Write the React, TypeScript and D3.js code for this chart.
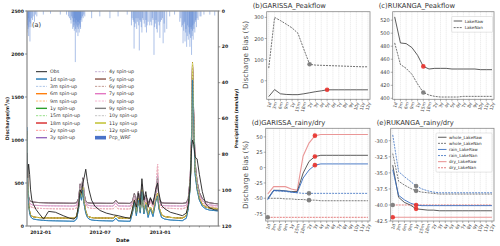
import React from "react";
import * as d3 from "d3";

const FONT = "DejaVu Sans, Verdana, sans-serif";
const parse = d3.timeParse("%Y-%m-%d");

// ---- panel (a): discharge time series (sampled dates) ----
const simDates = [
  "2011-11-20", "2011-11-22", "2011-11-25", "2011-11-28", "2011-12-01", "2011-12-05", "2011-12-10", "2011-12-18",
  "2011-12-28", "2012-01-10", "2012-01-25", "2012-02-15", "2012-03-10", "2012-03-30", "2012-04-12", "2012-04-20",
  "2012-04-26", "2012-05-01", "2012-05-05", "2012-05-09", "2012-05-13", "2012-05-18", "2012-05-23", "2012-05-28",
  "2012-06-05", "2012-06-15", "2012-07-01", "2012-07-20", "2012-08-10", "2012-08-18", "2012-08-25", "2012-09-15",
  "2012-10-01", "2012-10-08", "2012-10-14", "2012-10-20", "2012-10-26", "2012-11-01", "2012-11-06", "2012-11-12",
  "2012-11-18", "2012-11-25", "2012-12-02", "2012-12-10", "2012-12-18", "2012-12-24", "2012-12-28", "2013-01-05",
  "2013-01-15", "2013-02-01", "2013-02-20", "2013-03-10", "2013-03-22", "2013-03-28", "2013-04-03", "2013-04-07",
  "2013-04-10", "2013-04-14", "2013-04-18", "2013-04-24", "2013-05-01", "2013-05-10", "2013-05-20", "2013-06-01",
  "2013-06-15", "2013-06-27",
];
const obs = [
  850, 560, 720, 600, 420, 300, 250, 190, 140, 80, 170, 160, 120, 90, 80, 110,
  250, 420, 380, 500, 560, 660, 520, 420, 300, 230, 180, 150, 130, 125, 120, 100,
  90, 200, 300, 220, 380, 250, 550, 300, 400, 220, 330, 250, 420, 500, 380, 240,
  200, 160, 140, 120, 150, 250, 500, 900, 1000, 950, 800, 780, 600, 400, 260, 210,
  190, 185,
];
// 1d / 3m spin-up
const simA = [
  1150, 500, 250, 150, 110, 90, 80, 75, 70, 65, 62, 60, 58, 56, 55, 80,
  200, 380, 300, 420, 250, 150, 100, 80, 70, 65, 62, 60, 58, 90, 60, 56,
  55, 150, 280, 120, 300, 150, 400, 140, 250, 100, 200, 110, 280, 350, 200, 100,
  80, 70, 65, 62, 90, 200, 450, 900, 1700, 1100, 600, 420, 300, 230, 200, 185,
  180, 175,
];
// 6m .. 18m, 11y, 12y spin-up
const simB = [
  1100, 520, 280, 170, 130, 115, 105, 100, 98, 96, 95, 93, 92, 90, 90, 110,
  220, 400, 330, 450, 280, 170, 120, 105, 98, 95, 93, 92, 90, 120, 92, 90,
  88, 170, 300, 150, 320, 170, 420, 160, 270, 130, 220, 140, 300, 380, 220, 130,
  110, 100, 95, 92, 120, 220, 480, 950, 1900, 1150, 650, 450, 320, 250, 220, 210,
  205, 200,
];
// 2y, 6y, 8y spin-up
const simC = [
  1000, 480, 300, 240, 225, 218, 212, 208, 205, 203, 202, 200, 200, 198, 198, 210,
  280, 450, 380, 520, 330, 250, 220, 210, 205, 203, 202, 200, 200, 230, 200, 198,
  198, 250, 340, 230, 360, 240, 450, 230, 320, 215, 280, 220, 340, 720, 280, 215,
  208, 205, 202, 200, 215, 280, 520, 1000, 1850, 1200, 700, 480, 350, 280, 240, 225,
  220, 215,
];
// 4y, 7y, 10y spin-up
const simD = [
  1050, 500, 320, 270, 255, 248, 243, 240, 238, 236, 235, 234, 233, 232, 232, 240,
  300, 470, 400, 540, 350, 270, 245, 238, 235, 234, 233, 232, 232, 270, 233, 232,
  231, 270, 360, 250, 380, 260, 470, 250, 340, 240, 300, 245, 360, 600, 300, 240,
  236, 234, 233, 232, 240, 300, 540, 1020, 1880, 1220, 720, 500, 370, 300, 260, 245,
  240, 235,
];
// 3y, 5y, 9y spin-up
const simE = [
  1100, 520, 340, 300, 288, 282, 278, 275, 272, 270, 268, 267, 266, 265, 265, 270,
  320, 490, 420, 560, 370, 290, 272, 268, 266, 265, 265, 264, 264, 300, 265, 264,
  263, 290, 380, 275, 400, 285, 480, 275, 360, 268, 320, 270, 380, 560, 320, 270,
  266, 265, 264, 263, 270, 320, 560, 1050, 1850, 1250, 740, 520, 390, 320, 285, 270,
  262, 258,
];
const pcpDates = [
  "2011-11-22", "2011-11-25", "2011-11-27", "2011-11-29", "2011-12-02", "2011-12-07", "2011-12-13", "2011-12-20",
  "2012-01-09", "2012-01-31", "2012-03-01", "2012-03-26", "2012-04-02", "2012-04-05", "2012-04-08", "2012-04-10",
  "2012-04-12", "2012-04-14", "2012-04-16", "2012-04-18", "2012-04-20", "2012-04-22", "2012-04-24", "2012-04-26",
  "2012-04-28", "2012-04-30", "2012-05-02", "2012-05-04", "2012-05-06", "2012-05-10", "2012-05-15", "2012-06-05",
  "2012-06-30", "2012-07-31", "2012-08-25", "2012-09-22", "2012-10-05", "2012-10-10", "2012-10-13", "2012-10-17",
  "2012-10-21", "2012-10-25", "2012-10-29", "2012-11-02", "2012-11-06", "2012-11-10", "2012-11-16", "2012-11-20",
  "2012-11-25", "2012-11-30", "2012-12-06", "2012-12-10", "2012-12-13", "2012-12-17", "2012-12-21", "2012-12-26",
  "2012-12-31", "2013-01-05", "2013-01-10", "2013-01-15", "2013-01-21", "2013-01-30", "2013-02-14", "2013-03-02",
  "2013-03-08", "2013-03-12", "2013-03-15", "2013-03-18", "2013-03-21", "2013-03-23", "2013-03-26", "2013-03-28",
  "2013-03-31", "2013-04-02", "2013-04-05", "2013-04-07", "2013-04-10", "2013-04-12", "2013-04-15", "2013-04-17",
  "2013-04-20", "2013-04-22", "2013-04-27", "2013-05-03", "2013-05-15", "2013-06-02", "2013-06-17",
  "2011-11-20", "2011-11-21", "2011-11-23", "2011-11-24", "2011-11-26", "2011-11-30", "2011-12-04", "2011-12-09",
  "2011-12-16", "2012-03-20", "2012-03-29", "2012-04-03", "2012-04-07", "2012-04-11", "2012-04-13", "2012-04-15",
  "2012-04-17", "2012-04-19", "2012-04-21", "2012-04-23", "2012-04-25", "2012-04-27", "2012-04-29", "2012-05-01",
  "2012-05-03", "2012-05-08", "2012-05-12", "2012-10-07", "2012-10-12", "2012-10-15", "2012-10-19", "2012-10-23",
  "2012-10-27", "2012-10-31", "2012-11-04", "2012-11-08", "2012-11-13", "2012-11-18", "2012-11-22", "2012-12-03",
  "2012-12-08", "2012-12-15", "2012-12-19", "2012-12-23", "2012-12-29", "2013-01-02", "2013-01-08", "2013-01-13",
  "2013-03-05", "2013-03-10", "2013-03-14", "2013-03-17", "2013-03-20", "2013-03-25", "2013-03-30", "2013-04-01",
  "2013-04-04", "2013-04-06", "2013-04-09", "2013-04-11", "2013-04-14", "2013-04-19", "2013-04-24", "2013-05-06",
];
const pcp = [
  8, 14, 6, 17, 9, 5, 6, 3,
  2, 1.5, 2, 3, 5, 3, 10, 6,
  8, 4, 28.5, 7, 12, 9, 14, 6,
  12, 5, 10, 4, 6, 4, 3, 4,
  3, 4, 3, 2, 8, 5, 21, 7,
  10, 4, 22, 6, 12, 5, 9, 12,
  6, 8, 8, 5, 24.5, 7, 10, 6,
  15, 5, 18, 12, 10, 3, 2, 6,
  9, 18, 7, 17, 10, 20, 8, 16,
  12, 20, 9, 24.5, 11, 16, 7, 12,
  5, 9, 5, 3, 2, 2, 2.5,
  12, 5, 10, 4, 9, 7, 4, 3,
  2, 2, 4, 7, 4, 9, 11, 6,
  10, 5, 8, 6, 10, 8, 7, 9,
  5, 3, 2, 4, 6, 9, 4, 6,
  8, 5, 9, 4, 7, 5, 8, 6,
  4, 9, 5, 12, 8, 6, 4, 7,
  4, 8, 11, 6, 12, 14, 9, 13,
  15, 10, 14, 8, 10, 6, 4, 3,
];

const spinNames = ["1d", "3m", "6m", "9m", "1y", "15m", "18m", "2y", "3y", "4y", "5y", "6y", "7y", "8y", "9y", "10y", "11y", "12y"];
const spinColors = ["#1f77b4", "#aec7e8", "#ff7f0e", "#ffbb78", "#2ca02c", "#98df8a", "#d62728", "#ff9896", "#9467bd",
  "#c5b0d5", "#8c564b", "#c49c94", "#e377c2", "#f7b6d2", "#7f7f7f", "#c7c7c7", "#bcbd22", "#dbdb8d"];
const spinData = [simA, simA, simB, simB, simB, simB, simB, simC, simE, simD, simE, simC, simD, simC, simE, simD, simB, simB];

// ---- panels (b)-(e) ----
const cats = ["1d", "3m", "6m", "9m", "1y", "15m", "18m", "2y", "3y", "4y", "5y", "6y", "7y", "8y", "9y", "10y", "11y", "12y"];
const garPeakRaw = [-75, -42, -62, -65, -66, -66, -62, -57, -52, -48, -43, -43, -43, -43, -43, -43, -43, -43];
const garPeakNan = [60, 300, 285, 268, 250, 225, 150, 78, 74, 73, 72, 71, 70, 69, 68, 67, 66, 66];
const rukPeakRaw = [525, 485, 484, 478, 466, 449, 445, 446, 446, 446, 445, 445, 445, 445, 445, 444, 444, 444];
const rukPeakNan = [485, 452, 446, 437, 422, 409, 405, 403, 402, 402, 402, 402, 403, 403, 403, 403, 403, 403];

const garWholeRaw = [-50, -37, -37, -38, -39, -39, -9, 10, 18, 20, 20, 20, 20, 20, 20, 20, 20, 20];
const garWholeNan = [-50, -50, -50, -51, -51, -52, -52, -53, -53, -54, -54, -54, -54, -54, -54, -54, -54, -54];
const garRainRaw = [-52, -37, -38, -38, -40, -41, -17, -4, 4, 6, 6, 6, 6, 6, 6, 6, 6, 6];
const garRainNan = [-52, -38, -38, -39, -40, -41, -42, -42, -42, -42, -42, -42, -42, -42, -42, -42, -42, -42];
const garDryRaw = [-43, -31, -31, -31, -35, -37, 19, 40, 52, 54, 54, 54, 54, 54, 54, 54, 54, 54];
const garDryNan = [-81, -81, -81, -81, -81, -81, -81, -81, -81, -81, -81, -81, -81, -81, -81, -81, -81, -81];

const rukWholeRaw = [-33.8, -38.8, -39.6, -40.0, -40.6, -40.7, -40.8, -40.8, -40.9, -40.9, -40.9, -40.9, -40.9, -40.9, -40.9, -40.9, -40.9, -40.9];
const rukWholeNan = [-32.0, -36.3, -36.9, -37.4, -37.8, -38.0, -38.1, -38.2, -38.3, -38.3, -38.3, -38.3, -38.3, -38.3, -38.3, -38.3, -38.3, -38.3];
const rukRainRaw = [-34.5, -38.5, -39.2, -39.7, -40.0, -40.1, -40.1, -40.1, -40.1, -40.1, -40.1, -40.1, -40.1, -40.1, -40.1, -40.1, -40.1, -40.1];
const rukRainNan = [-29.1, -34.8, -35.6, -36.3, -37.05, -37.5, -37.8, -38.0, -38.1, -38.1, -38.1, -38.1, -38.1, -38.1, -38.1, -38.1, -38.1, -38.1];
const rukDryRaw = [-41.9, -41.9, -41.9, -41.9, -41.9, -41.9, -41.9, -41.9, -41.9, -41.9, -41.9, -41.9, -41.9, -41.9, -41.9, -41.9, -41.9, -41.9];
const rukDryNan = [-40.0, -40.0, -40.0, -40.0, -40.0, -40.0, -40.0, -40.0, -40.0, -40.0, -40.0, -40.0, -40.0, -40.0, -40.0, -40.0, -40.0, -40.0];

type Ser = { name: string; vals: number[]; color: string; dash?: string; width?: number; opacity?: number };
type Dot = { i: number; vals: number[]; color: string };

const BLACK = "#333";
const BLUE = "#3a6ec0";
const RED = "#d94848";
const LRED = "#e88c8c";

function PanelA() {
  const L = 27, R = 218.3, T = 11, B = 226;
  const x = d3.scaleTime().domain([parse("2011-11-20")!, parse("2013-06-28")!]).range([L, R]);
  const y = d3.scaleLinear().domain([0, 2500]).range([B, T]);
  const yp = d3.scaleLinear().domain([0, 120]).range([T, B]);
  const ds = simDates.map((s) => parse(s)!);
  const line = d3.line<number>().x((_, i) => x(ds[i])).y((v) => y(v));
  const monthTicks = x.ticks(d3.timeMonth.every(1)!);
  const majors = [parse("2012-01-01")!, parse("2012-07-01")!, parse("2013-01-01")!];
  const fs = 4.6;
  const legendRows = 10;
  const legItems: { label: string; color: string; dash?: string; patch?: boolean; w: number }[] = [
    { label: "Obs", color: "#222", w: 1 },
    ...spinNames.map((n, i) => ({ label: n + " spin-up", color: spinColors[i], dash: i % 2 ? "2.2,1.2" : undefined, w: i % 2 ? 1 : 1.4 })),
    { label: "Pcp_WRF", color: "#4a72c8", patch: true, w: 1 },
  ];
  return (
    <g>
      <clipPath id="clipA"><rect x={L} y={T} width={R - L} height={B - T} /></clipPath>
      <g clipPath="url(#clipA)">
        {pcp.map((v, i) => {
          const px = x(parse(pcpDates[i])!);
          return <rect key={i} x={px - 0.5} y={T} width={1} height={yp(v) - T} fill="#5b86d4" opacity={0.5} />;
        })}
        {spinData.map((d, i) => (
          <path key={i} d={line(d) ?? ""} fill="none" stroke={spinColors[i]} strokeWidth={i % 2 ? 0.8 : 1}
            strokeDasharray={i % 2 ? "2,1.2" : undefined} opacity={0.85} />
        ))}
        <path d={line(simA) ?? ""} fill="none" stroke="#1f77b4" strokeWidth={1} opacity={0.7} />
        <path d={line(obs) ?? ""} fill="none" stroke="#222" strokeWidth={0.9} />
      </g>
      <rect x={L} y={T} width={R - L} height={B - T} fill="none" stroke="#888" strokeWidth={1.2} />
      {/* left axis */}
      {d3.range(0, 2501, 500).map((v) => (
        <g key={v}>
          <line x1={L - 2} x2={L} y1={y(v)} y2={y(v)} stroke="#555" strokeWidth={0.6} />
          <text x={L - 3} y={y(v)} fontSize={fs} fontWeight="bold" textAnchor="end" dominantBaseline="central" fill="#222">{v}</text>
        </g>
      ))}
      {/* right axis */}
      {d3.range(0, 121, 20).map((v) => (
        <g key={v}>
          <line x1={R} x2={R + 2} y1={yp(v)} y2={yp(v)} stroke="#555" strokeWidth={0.6} />
          <text x={R + 3.5} y={yp(v)} fontSize={fs} fontWeight="bold" textAnchor="start" dominantBaseline="central" fill="#222">{v}</text>
        </g>
      ))}
      {/* bottom axis */}
      {monthTicks.map((d, i) => (
        <line key={i} x1={x(d)} x2={x(d)} y1={B} y2={B + 1.5} stroke="#555" strokeWidth={0.5} />
      ))}
      {majors.map((d, i) => (
        <g key={i}>
          <line x1={x(d)} x2={x(d)} y1={B} y2={B + 2.5} stroke="#555" strokeWidth={0.6} />
          <text x={x(d)} y={B + 6.5} fontSize={fs} fontWeight="bold" textAnchor="middle" dominantBaseline="central" fill="#222">
            {d3.timeFormat("%Y-%m")(d)}
          </text>
        </g>
      ))}
      <text x={(L + R) / 2} y={B + 13.5} fontSize={5} fontWeight="bold" textAnchor="middle" dominantBaseline="central" fill="#222">Date</text>
      <text transform={`translate(7,${(T + B) / 2}) rotate(-90)`} fontSize={4.8} fontWeight="bold" textAnchor="middle" dominantBaseline="central" fill="#222">
        Discharge(m<tspan dy={-1.5} fontSize={3.2}>3</tspan><tspan dy={1.5}>/s)</tspan>
      </text>
      <text transform={`translate(236,${(T + B) / 2}) rotate(-90)`} fontSize={4.6} fontWeight="bold" textAnchor="middle" dominantBaseline="central" fill="#222">
        Precipitation (mm/day)
      </text>
      <text x={32} y={27} fontSize={6.5} fill="#333">(a)</text>
      {/* legend */}
      {legItems.map((it, k) => {
        const col = Math.floor(k / legendRows);
        const row = k % legendRows;
        const lx = 36 + col * 59;
        const ly = 71.7 + row * 7.33;
        return (
          <g key={k}>
            {it.patch ? (
              <rect x={lx} y={ly - 1.8} width={11} height={3.6} fill={it.color} />
            ) : (
              <line x1={lx} x2={lx + 11} y1={ly} y2={ly} stroke={it.color} strokeWidth={it.w} strokeDasharray={it.dash} />
            )}
            <text x={lx + 14} y={ly} fontSize={4.8} dominantBaseline="central" fill="#333">{it.label}</text>
          </g>
        );
      })}
    </g>
  );
}

type PanelProps = {
  L: number; R: number; T: number; B: number;
  domain: [number, number]; ticks: number[]; fmt: (v: number) => string;
  title: string; series: Ser[]; dots: Dot[];
  legend?: { x: number; y: number; w: number; rowH: number; items: Ser[] };
};

function Panel(p: PanelProps) {
  const x = d3.scalePoint<string>().domain(cats).range([p.L, p.R]).padding(0.35);
  const y = d3.scaleLinear().domain(p.domain).range([p.B, p.T]);
  const line = d3.line<number>().x((_, i) => x(cats[i])!).y((v) => y(v));
  const fs = 5;
  return (
    <g>
      {cats.map((c) => (
        <line key={c} x1={x(c)} x2={x(c)} y1={p.T} y2={p.B} stroke="#ccc" strokeWidth={0.5} strokeDasharray="1,1" />
      ))}
      {p.series.map((s, k) => (
        <path key={k} d={line(s.vals) ?? ""} fill="none" stroke={s.color} strokeWidth={s.width ?? 0.8}
          strokeDasharray={s.dash} opacity={s.opacity ?? 1} />
      ))}
      {p.dots.map((d, k) => (
        <circle key={k} cx={x(cats[d.i])} cy={y(d.vals[d.i])} r={2.3} fill={d.color} opacity={0.9} />
      ))}
      <rect x={p.L} y={p.T} width={p.R - p.L} height={p.B - p.T} fill="none" stroke="#888" strokeWidth={0.8} />
      {p.ticks.map((v) => (
        <g key={v}>
          <line x1={p.L - 2} x2={p.L} y1={y(v)} y2={y(v)} stroke="#666" strokeWidth={0.5} />
          <text x={p.L - 3} y={y(v)} fontSize={fs} textAnchor="end" dominantBaseline="central" fill="#444">{p.fmt(v)}</text>
        </g>
      ))}
      {cats.map((c) => (
        <g key={c}>
          <line x1={x(c)} x2={x(c)} y1={p.B} y2={p.B + 2} stroke="#666" strokeWidth={0.5} />
          <text transform={`translate(${x(c)! + 1.2},${p.B + 3}) rotate(-75)`} fontSize={4.4} textAnchor="end"
            dominantBaseline="central" fill="#444">{c}</text>
        </g>
      ))}
      <text x={p.L - 14} y={p.T - 3.5} fontSize={6.8} fill="#333">{p.title}</text>
      {p.legend && (
        <g>
          <rect x={p.legend.x} y={p.legend.y} width={p.legend.w} height={p.legend.rowH * p.legend.items.length + 2.5}
            fill="white" fillOpacity={0.85} stroke="#ccc" strokeWidth={0.5} rx={1} />
          {p.legend.items.map((s, k) => {
            const ly = p.legend!.y + 1.2 + p.legend!.rowH * (k + 0.5);
            return (
              <g key={k}>
                <line x1={p.legend!.x + 2} x2={p.legend!.x + 10.5} y1={ly} y2={ly} stroke={s.color}
                  strokeWidth={s.width ?? 0.8} strokeDasharray={s.dash} opacity={s.opacity ?? 1} />
                <text x={p.legend!.x + 13} y={ly} fontSize={4.2} dominantBaseline="central" fill="#333">{s.name}</text>
              </g>
            );
          })}
        </g>
      )}
    </g>
  );
}

export default function App() {
  const peakSeries = (raw: number[], nan: number[]): Ser[] => [
    { name: "LakeRaw", vals: raw, color: BLACK, width: 0.8 },
    { name: "LakeNan", vals: nan, color: BLACK, dash: "2,1", width: 0.7 },
  ];
  const rdSeries = (wr: number[], wn: number[], rr: number[], rn: number[], dr: number[], dn: number[]): Ser[] => [
    { name: "dry_LakeRaw", vals: dr, color: LRED, width: 1.1, opacity: 0.9 },
    { name: "dry_LakeNan", vals: dn, color: RED, dash: "2,1", width: 0.7 },
    { name: "whole_LakeRaw", vals: wr, color: BLACK, width: 0.8 },
    { name: "whole_LakeNan", vals: wn, color: "#444", dash: "2,1", width: 0.7 },
    { name: "rain_LakeRaw", vals: rr, color: BLUE, width: 0.9 },
    { name: "rain_LakeNan", vals: rn, color: BLUE, dash: "2,1", width: 0.8 },
  ];
  const dSeries = rdSeries(garWholeRaw, garWholeNan, garRainRaw, garRainNan, garDryRaw, garDryNan);
  const eSeries = rdSeries(rukWholeRaw, rukWholeNan, rukRainRaw, rukRainNan, rukDryRaw, rukDryNan);
  const legOrder = (s: Ser[]) => [s[2], s[3], s[4], s[5], s[0], s[1]];
  const GREY = "#777";
  const RDOT = "#e8302a";
  return (
    <svg width={500} height={246} style={{ position: "absolute", left: 0, top: 0, background: "white" }} fontFamily={FONT}>
      <rect width={500} height={246} fill="white" />
      <PanelA />
      <text transform="translate(245,55) rotate(-90)" fontSize={7.2} textAnchor="middle" dominantBaseline="central" fill="#555">Discharge Bias (%)</text>
      <text transform="translate(245,175) rotate(-90)" fontSize={7.2} textAnchor="middle" dominantBaseline="central" fill="#555">Discharge Bias (%)</text>
      <Panel L={266.7} R={370} T={11.7} B={99.3} domain={[-88, 327]} ticks={[0, 100, 200, 300]} fmt={(v) => String(v)}
        title="(b)GARISSA_Peakflow" series={peakSeries(garPeakRaw, garPeakNan)}
        dots={[{ i: 7, vals: garPeakNan, color: GREY }, { i: 10, vals: garPeakRaw, color: RDOT }]} />
      <Panel L={392.7} R={494} T={11.7} B={99.3} domain={[398.5, 533]} ticks={[400, 420, 440, 460, 480, 500, 520]} fmt={(v) => String(v)}
        title="(c)RUKANGA_Peakflow" series={peakSeries(rukPeakRaw, rukPeakNan)}
        dots={[{ i: 5, vals: rukPeakNan, color: GREY }, { i: 5, vals: rukPeakRaw, color: RDOT }]}
        legend={{ x: 451.7, y: 16.5, w: 41, rowH: 6.6, items: peakSeries(rukPeakRaw, rukPeakNan) }} />
      <Panel L={265.7} R={370} T={128.3} B={221} domain={[-87, 64]} ticks={[-75, -50, -25, 0, 25, 50]} fmt={(v) => String(v)}
        title="(d)GARISSA_rainy/dry" series={dSeries}
        dots={[
          { i: 0, vals: garDryNan, color: GREY }, { i: 7, vals: garRainNan, color: GREY }, { i: 7, vals: garWholeNan, color: GREY },
          { i: 8, vals: garDryRaw, color: RDOT }, { i: 8, vals: garWholeRaw, color: RDOT }, { i: 8, vals: garRainRaw, color: RDOT },
        ]} />
      <Panel L={390.7} R={494} T={128.3} B={221} domain={[-42.49, -28.07]} ticks={[-42.5, -40, -37.5, -35, -32.5, -30]} fmt={(v) => v.toFixed(1)}
        title="(e)RUKANGA_rainy/dry" series={eSeries}
        dots={[
          { i: 0, vals: rukDryNan, color: GREY }, { i: 4, vals: rukRainNan, color: GREY }, { i: 4, vals: rukWholeNan, color: GREY },
          { i: 0, vals: rukDryRaw, color: RDOT }, { i: 4, vals: rukRainRaw, color: RDOT }, { i: 4, vals: rukWholeRaw, color: RDOT },
        ]}
        legend={{ x: 436, y: 133, w: 56, rowH: 6.1, items: legOrder(eSeries) }} />
    </svg>
  );
}
